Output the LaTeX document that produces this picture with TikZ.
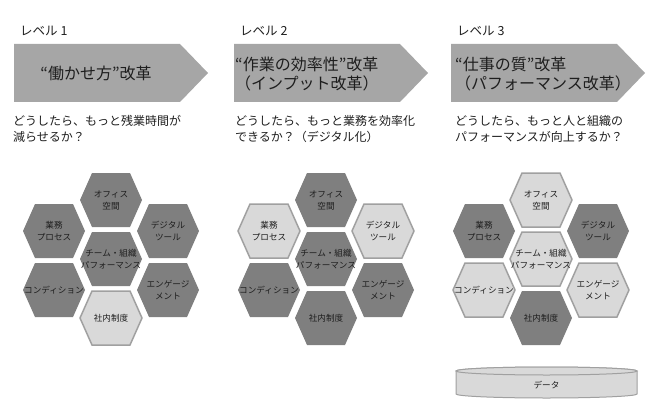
\documentclass[tikz,border=0pt]{standalone}
\usepackage{fontspec}
\setmainfont{Noto Sans CJK JP}
\usepackage{xcolor}
\usepackage{tikz}
\usetikzlibrary{positioning}
\usetikzlibrary{calc}
\definecolor{chevgray}{HTML}{A6A6A6}
\definecolor{hexdark}{HTML}{7F7F7F}
\definecolor{hexlight}{HTML}{D9D9D9}
\definecolor{hexline}{HTML}{A0A0A0}
\definecolor{txt}{HTML}{1E1E1E}
\tikzstyle{chevron}=[fill=chevgray]
\tikzstyle{darkhex}=[fill=hexdark]
\tikzstyle{lighthex}=[fill=hexlight,draw=hexline,line width=1.5pt]
\tikzstyle{hexlabel}=[align=center,inner sep=0pt,text=txt,font=\fontsize{8.6}{12}\selectfont]
\tikzstyle{lvlabel}=[anchor=west,inner sep=0pt,text=txt,font=\fontsize{12.5}{15}\selectfont]
\tikzstyle{headtext}=[inner sep=0pt,text=txt,align=left,font=\fontsize{16}{19}\selectfont]
\tikzstyle{asktext}=[anchor=west,inner sep=0pt,text=txt,align=left,font=\fontsize{12}{15.5}\selectfont]
\tikzstyle{datadisc}=[fill=hexlight,draw=hexline,line width=1pt]

\begin{document}
\begin{tikzpicture}[x=1pt,y=-1pt]

 \useasboundingbox (0,0) rectangle (666,417);

 %L1
  \def\dx{0};
  \def\cx{111};

  \node[lvlabel] (lv1) at (\dx+20,31) {レベル 1};
  \path[chevron] (\dx+14,44) -- (\dx+180,44) -- (\dx+208,73) -- (\dx+180,102) -- (\dx+14,102) -- cycle;
  \node[headtext] (head1) at (\dx+96,73) {“働かせ方”改革};
  \node[asktext] (ask1) at (13,129) {どうしたら、もっと残業時間が\\減らせるか？};

  \foreach \x/\y/\name/\st/\label in {0/200/office/darkhex/{オフィス\\空間}, -57/231/process/darkhex/{業務\\プロセス}, 57/231/tool/darkhex/{デジタル\\ツール}, 0/259/team/darkhex/{チーム・組織\\パフォーマンス}, -57/290/cond/darkhex/{コンディション}, 57/290/engage/darkhex/{エンゲージ\\メント}, 0/318/rule/lighthex/{社内制度}}
  {
   \path[\st, shift={(\x+\cx,\y)}] (-31,0) -- (-19,-27) -- (19,-27) -- (31,0) -- (19,27) -- (-19,27) -- cycle;
   \node[hexlabel] (\name1) at (\x+\cx,\y) {\label};
  }

 %L2
  \def\dx{220};
  \def\cx{326};

  \node[lvlabel] (lv2) at (\dx+20,31) {レベル 2};
  \path[chevron] (\dx+14,44) -- (\dx+180,44) -- (\dx+208,73) -- (\dx+180,102) -- (\dx+14,102) -- cycle;
  \node[headtext, anchor=west] (head2) at (\dx+15,74) {“作業の効率性”改革\\（インプット改革）};
  \node[asktext] (ask2) at (235,129) {どうしたら、もっと業務を効率化\\できるか？（デジタル化）};

  \foreach \x/\y/\name/\st/\label in {0/200/office/darkhex/{オフィス\\空間}, -57/231/process/lighthex/{業務\\プロセス}, 57/231/tool/lighthex/{デジタル\\ツール}, 0/259/team/darkhex/{チーム・組織\\パフォーマンス}, -57/290/cond/darkhex/{コンディション}, 57/290/engage/darkhex/{エンゲージ\\メント}, 0/318/rule/darkhex/{社内制度}}
  {
   \path[\st, shift={(\x+\cx,\y)}] (-31,0) -- (-19,-27) -- (19,-27) -- (31,0) -- (19,27) -- (-19,27) -- cycle;
   \node[hexlabel] (\name2) at (\x+\cx,\y) {\label};
  }

 %L3
  \def\dx{437};
  \def\cx{541};

  \node[lvlabel] (lv3) at (\dx+20,31) {レベル 3};
  \path[chevron] (\dx+14,44) -- (\dx+180,44) -- (\dx+208,73) -- (\dx+180,102) -- (\dx+14,102) -- cycle;
  \node[headtext, anchor=west] (head3) at (\dx+18,74) {“仕事の質”改革\\（パフォーマンス改革）};
  \node[asktext] (ask3) at (455,129) {どうしたら、もっと人と組織の\\パフォーマンスが向上するか？};

  \foreach \x/\y/\name/\st/\label in {0/200/office/lighthex/{オフィス\\空間}, -57/231/process/darkhex/{業務\\プロセス}, 57/231/tool/darkhex/{デジタル\\ツール}, 0/259/team/lighthex/{チーム・組織\\パフォーマンス}, -57/290/cond/lighthex/{コンディション}, 57/290/engage/lighthex/{エンゲージ\\メント}, 0/318/rule/darkhex/{社内制度}}
  {
   \path[\st, shift={(\x+\cx,\y)}] (-31,0) -- (-19,-27) -- (19,-27) -- (31,0) -- (19,27) -- (-19,27) -- cycle;
   \node[hexlabel] (\name3) at (\x+\cx,\y) {\label};
  }

  % data disc
  \path[datadisc] (456,371) -- (456,394) arc[start angle=180, end angle=0, x radius=90.5, y radius=4] -- (637,371) arc[start angle=0, end angle=-180, x radius=90.5, y radius=4] -- cycle;
  \path[datadisc] (546.5,371) ellipse [x radius=90.5, y radius=4];
  \node[hexlabel] (data) at (546.5,385) {データ};

\end{tikzpicture}
\end{document}
